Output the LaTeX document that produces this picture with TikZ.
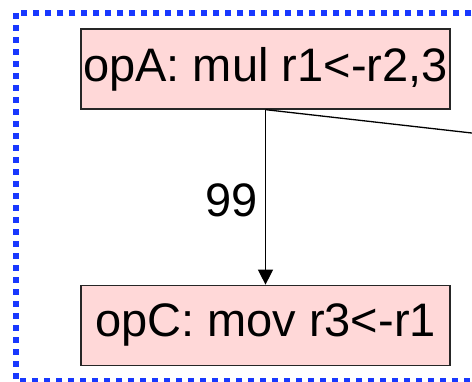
\documentclass[tikz,border=0pt]{standalone}
\usepackage{fontspec}
\setmainfont{Liberation Sans}
\usepackage{tikz}
\usetikzlibrary{arrows.meta,positioning}
\definecolor{oppink}{RGB}{255,216,216}
\definecolor{regionblue}{RGB}{24,56,255}
\tikzstyle{opbox}=[rectangle,draw=black!85,line width=1.3pt,fill=oppink,
                  minimum width=369pt,minimum height=80pt,inner sep=0pt,
                  font=\fontsize{47}{56}\selectfont]
\tikzstyle{arrow}=[-{Triangle[length=15pt,width=15pt]},line width=1.3pt]
\tikzstyle{region}=[draw=regionblue,line width=6pt,dash pattern=on 6pt off 6pt]

\begin{document}
\begin{tikzpicture}[x=1pt,y=-1pt,node distance=175pt]
      \useasboundingbox (0,0) rectangle (472,382);
      \clip (0,0) rectangle (472,382);
      % dotted region around the ops
      \draw[region] (16,13.3) rectangle (500,381);

      \node[opbox] (opA) at (265.5,69) {opA: mul r1<-r2,3};
      \node[opbox,below=of opA] (opC) {opC: mov r3<-r1};
      \coordinate (opBin) at (560,143);

      \draw[arrow] (opA)--node[left,font=\fontsize{47}{56}\selectfont,xshift=-4pt,yshift=-3pt]{99}(opC);
      \draw[line width=1.3pt] (opA.south)--(opBin);
    \end{tikzpicture}
\end{document}
